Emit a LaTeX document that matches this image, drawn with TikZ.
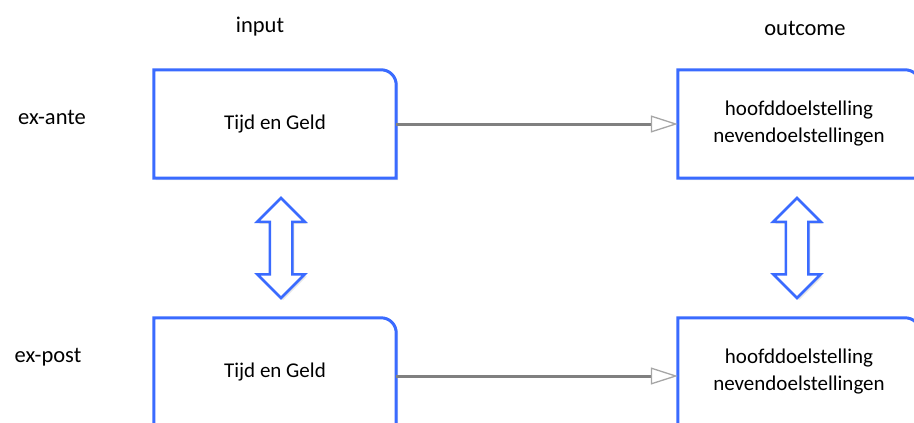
\documentclass[tikz,border=0pt]{standalone}
\usepackage{fontspec}
\setmainfont{Carlito}
\usetikzlibrary{arrows.meta,shapes.arrows,shadows,backgrounds,calc}

\definecolor{frameblue}{HTML}{3A6BFF}
\definecolor{linkgray}{HTML}{808080}
\definecolor{tipgray}{HTML}{A6A6A6}

\newcommand{\frameit}[1]{%
  \filldraw[frame] (#1.south west) -- (#1.north west) -- ([xshift=-15pt]#1.north east)
    arc[start angle=90,end angle=0,radius=15pt] -- (#1.south east) -- cycle;}

\tikzset{
  box/.style={minimum width=242pt,minimum height=108pt,inner sep=0pt,align=center,font=\fontsize{21}{27}\selectfont},
  frame/.style={draw=frameblue,line width=3pt,fill=white,drop shadow={shadow xshift=2pt,shadow yshift=-2pt,opacity=0.2}},
  link/.style={draw=linkgray,line width=3pt,-{Triangle[open,length=27pt,width=17pt,line width=1.3pt,color=tipgray]}},
  swap/.style={double arrow,draw=frameblue,line width=2.5pt,fill=white,rotate=90,minimum height=100pt,
    minimum width=0pt,inner xsep=0pt,inner ysep=10pt,double arrow head extend=12.5pt,
    drop shadow={shadow xshift=2pt,shadow yshift=-2pt,opacity=0.2}},
  heading/.style={font=\fontsize{22.5}{27}\selectfont}
}

\begin{document}
\begin{tikzpicture}[x=1pt,y=1pt]
    \useasboundingbox (0,0) rectangle (914,-423);
    \clip (0,0) rectangle (914,-423);

    \node[heading] (input) at (260,-27) {input};
    \node[heading] (outcome) at (805,-28) {outcome};
    \node[heading] (ante) at (52,-117) {ex-ante};
    \node[heading] (post) at (48,-357) {ex-post};

    \node[box] (inA) at (275,-124) {Tijd en Geld};
    \node[box] (outA) at (799,-124) {hoofddoelstelling\\nevendoelstellingen};
    \node[box] (inP) at (275,-372) {Tijd en Geld};
    \node[box] (outP) at (799,-372) {hoofddoelstelling\\nevendoelstellingen};

    \begin{pgfonlayer}{background}
      \frameit{inA} \frameit{outA} \frameit{inP} \frameit{outP}
    \end{pgfonlayer}

    \draw[link] (inA.east) -- (outA.west);
    \draw[link] ([yshift=-4pt]inP.east) -- ([yshift=-4pt]outP.west);

    \node[swap] (swapIn) at ($(inA.south)!0.5!(inP.north)+(6,0)$) {};
    \node[swap] (swapOut) at ($(outA.south)!0.5!(outP.north)+(-2,0)$) {};

  \end{tikzpicture}
\end{document}
